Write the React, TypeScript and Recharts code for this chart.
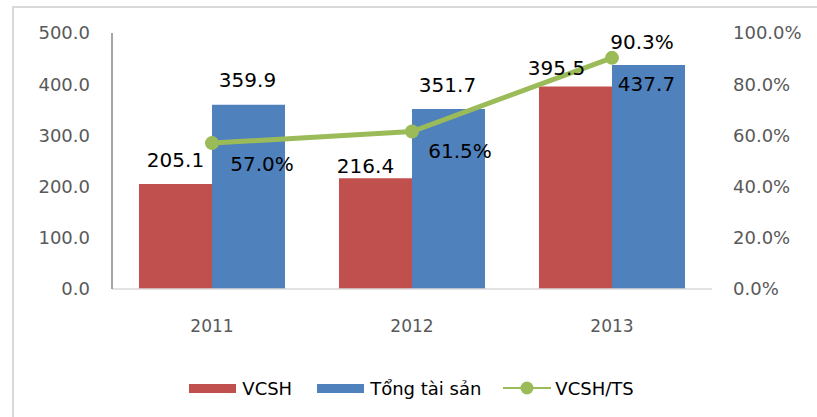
import React from 'react';
import { ComposedChart, Bar, Line, XAxis, YAxis, Legend, LabelList } from 'recharts';

const years = ['2011', '2012', '2013'];
const vcsh = [205.1, 216.4, 395.5];
const tongTaiSan = [359.9, 351.7, 437.7];
const ratio = [57.0, 61.5, 90.3];
const leftTicks = [0, 100, 200, 300, 400, 500];
const rightTicks = [0, 20, 40, 60, 80, 100];
const seriesNames = ['VCSH', 'Tổng tài sản', 'VCSH/TS'];

const data = years.map((y, i) => ({ year: y, vcsh: vcsh[i], tts: tongTaiSan[i], ratio: ratio[i] }));

const FONT = '"DejaVu Sans", Verdana, sans-serif';
const RED = '#C0504D';
const BLUE = '#4F81BD';
const GREEN = '#9BBB59';

// label placement offsets (style only), relative to bar top centre / point
const redLabelOff = [{ dx: 0, dy: -24 }, { dx: -10, dy: -12 }, { dx: -19, dy: -19 }];
const blueLabelOff = [{ dx: -1, dy: -25 }, { dx: -1, dy: -24 }, { dx: -2, dy: 19 }];
const lineLabelOff = [{ dx: 50, dy: 21 }, { dx: 48, dy: 19 }, { dx: 30, dy: -16 }];

const makeLabel = (offs: { dx: number; dy: number }[], fmt: (v: number) => string) => (props: any) => {
  const { x, y, width, value, index } = props;
  const o = offs[index] || { dx: 0, dy: 0 };
  const cx = Number(x) + (width ? Number(width) / 2 : 0) + o.dx;
  const cy = Number(y) + o.dy;
  const fs = 20;
  return (
    <text x={cx} y={cy + fs * 0.36} textAnchor="middle" fill="#000" fontSize={fs} fontFamily={FONT}>
      {fmt(Number(value))}
    </text>
  );
};

const renderLegend = (props: any) => {
  const payload = [...(props.payload || [])].sort(
    (a: any, b: any) => seriesNames.indexOf(a.value) - seriesNames.indexOf(b.value)
  );
  return (
    <div style={{ display: 'flex', justifyContent: 'center', alignItems: 'center', height: 30, fontFamily: FONT, fontSize: 18, color: '#000', paddingLeft: 6 }}>
      {payload.map((p: any, i: number) => (
        <div key={i} style={{ display: 'flex', alignItems: 'center', marginRight: i < payload.length - 1 ? (i === 1 ? 22 : 25) : 0 }}>
          {p.type === 'line' ? (
            <svg width={48} height={14} style={{ marginRight: 4 }}>
              <line x1={0} y1={7} x2={48} y2={7} stroke={GREEN} strokeWidth={2} />
              <circle cx={24} cy={7} r={6.5} fill={GREEN} />
            </svg>
          ) : (
            <div style={{ width: 47, height: 9, background: p.color, marginRight: 6 }} />
          )}
          <span>{p.value}</span>
        </div>
      ))}
    </div>
  );
};

export default function App() {
  return (
    <div style={{ position: 'absolute', left: 0, top: 0, width: 817, height: 417, background: '#fff', overflow: 'hidden' }}>
      <div style={{ position: 'absolute', left: 12, top: 6, width: 830, height: 430, border: '2px solid #D9D9D9', boxSizing: 'border-box' }} />
      <ComposedChart
        width={817}
        height={417}
        data={data}
        margin={{ top: 33, left: 32, right: 25, bottom: 58 }}
        barCategoryGap={27}
        barGap={0}
        style={{ position: 'absolute', left: 0, top: 0, fontFamily: FONT }}
      >
        <XAxis
          dataKey="year"
          axisLine={{ stroke: '#D9D9D9', strokeWidth: 1.5 }}
          tickLine={false}
          tickSize={0}
          tickMargin={31}
          height={40}
          tick={{ fill: '#595959', fontSize: 17, fontFamily: FONT }}
        />
        <YAxis
          yAxisId="left"
          domain={[0, 500]}
          ticks={leftTicks}
          tickFormatter={(v: number) => v.toFixed(1)}
          axisLine={{ stroke: '#868686', strokeWidth: 1.5 }}
          tickLine={false}
          tickSize={0}
          tickMargin={22}
          width={80}
          tick={{ fill: '#595959', fontSize: 18, fontFamily: FONT }}
        />
        <YAxis
          yAxisId="right"
          orientation="right"
          domain={[0, 100]}
          ticks={rightTicks}
          tickFormatter={(v: number) => v.toFixed(1) + '%'}
          axisLine={false}
          tickLine={false}
          tickSize={0}
          tickMargin={21}
          width={80}
          tick={{ fill: '#595959', fontSize: 18, fontFamily: FONT, textAnchor: 'start' }}
        />
        <Legend
          verticalAlign="bottom"
          content={renderLegend}
          wrapperStyle={{ top: 373, left: 0, width: 817, height: 30 }}
        />
        <Bar yAxisId="left" dataKey="vcsh" name={seriesNames[0]} fill={RED} isAnimationActive={false} legendType="rect">
          <LabelList dataKey="vcsh" content={makeLabel(redLabelOff, (v) => v.toFixed(1))} />
        </Bar>
        <Bar yAxisId="left" dataKey="tts" name={seriesNames[1]} fill={BLUE} isAnimationActive={false} legendType="rect">
          <LabelList dataKey="tts" content={makeLabel(blueLabelOff, (v) => v.toFixed(1))} />
        </Bar>
        <Line
          yAxisId="right"
          dataKey="ratio"
          name={seriesNames[2]}
          stroke={GREEN}
          strokeWidth={5}
          dot={{ r: 7, fill: GREEN, stroke: 'none' }}
          activeDot={false}
          isAnimationActive={false}
          legendType="line"
        >
          <LabelList dataKey="ratio" content={makeLabel(lineLabelOff, (v) => v.toFixed(1) + '%')} />
        </Line>
      </ComposedChart>
    </div>
  );
}
